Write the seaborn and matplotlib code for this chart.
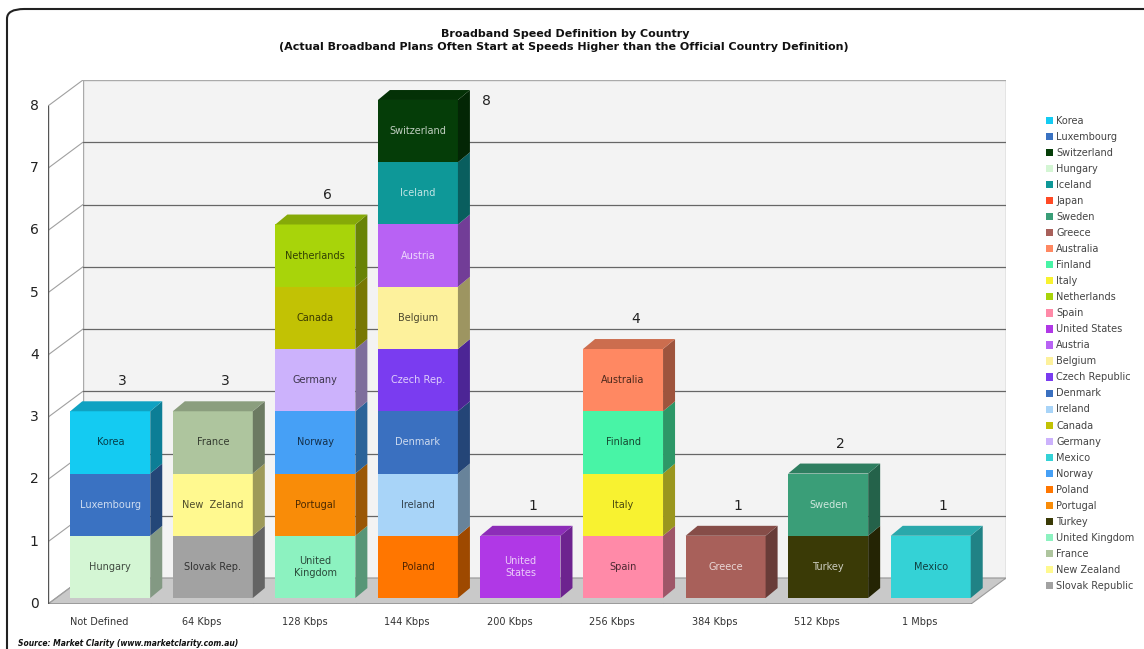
import matplotlib
matplotlib.use('Agg')
import numpy as np
import pandas as pd
import matplotlib.pyplot as plt
import seaborn as sns
from matplotlib.colors import to_rgb
from matplotlib.patches import Polygon, Patch, FancyBboxPatch

speeds = ['Not Defined', '64 Kbps', '128 Kbps', '144 Kbps', '200 Kbps',
          '256 Kbps', '384 Kbps', '512 Kbps', '1 Mbps']

# one row per country, listed bottom -> top inside each speed
seg_speed = ['Not Defined', 'Not Defined', 'Not Defined',
             '64 Kbps', '64 Kbps', '64 Kbps',
             '128 Kbps', '128 Kbps', '128 Kbps', '128 Kbps', '128 Kbps', '128 Kbps',
             '144 Kbps', '144 Kbps', '144 Kbps', '144 Kbps', '144 Kbps', '144 Kbps',
             '144 Kbps', '144 Kbps',
             '200 Kbps',
             '256 Kbps', '256 Kbps', '256 Kbps', '256 Kbps',
             '384 Kbps',
             '512 Kbps', '512 Kbps',
             '1 Mbps']
seg_country = ['Hungary', 'Luxembourg', 'Korea',
               'Slovak Republic', 'New Zealand', 'France',
               'United Kingdom', 'Portugal', 'Norway', 'Germany', 'Canada', 'Netherlands',
               'Poland', 'Ireland', 'Denmark', 'Czech Republic', 'Belgium', 'Austria',
               'Iceland', 'Switzerland',
               'United States',
               'Spain', 'Italy', 'Finland', 'Australia',
               'Greece',
               'Turkey', 'Sweden',
               'Mexico']
seg_label = ['Hungary', 'Luxembourg', 'Korea',
             'Slovak Rep.', 'New  Zeland', 'France',
             'United\nKingdom', 'Portugal', 'Norway', 'Germany', 'Canada', 'Netherlands',
             'Poland', 'Ireland', 'Denmark', 'Czech Rep.', 'Belgium', 'Austria',
             'Iceland', 'Switzerland',
             'United\nStates',
             'Spain', 'Italy', 'Finland', 'Australia',
             'Greece',
             'Turkey', 'Sweden',
             'Mexico']
seg_value = [1, 1, 1,
             1, 1, 1,
             1, 1, 1, 1, 1, 1,
             1, 1, 1, 1, 1, 1, 1, 1,
             1,
             1, 1, 1, 1,
             1,
             1, 1,
             1]

legend_countries = ['Korea', 'Luxembourg', 'Switzerland', 'Hungary', 'Iceland', 'Japan',
                    'Sweden', 'Greece', 'Australia', 'Finland', 'Italy', 'Netherlands',
                    'Spain', 'United States', 'Austria', 'Belgium', 'Czech Republic',
                    'Denmark', 'Ireland', 'Canada', 'Germany', 'Mexico', 'Norway',
                    'Poland', 'Portugal', 'Turkey', 'United Kingdom', 'France',
                    'New Zealand', 'Slovak Republic']
legend_colors = ['#14cbf2', '#3a72c2', '#053d08', '#d4f6d4', '#0e9898', '#ff4a25',
                 '#3a9e78', '#a8605a', '#ff8862', '#48f4a6', '#f8f230', '#a8d40a',
                 '#ff8aa8', '#b038e6', '#b862f4', '#fdf19c', '#7a3cf0',
                 '#3a70c0', '#a8d4f8', '#c2c204', '#ccb2fc', '#34d2d6', '#46a0f6',
                 '#ff7600', '#f98c08', '#3a3a06', '#8cf2c0', '#aec59e',
                 '#fff98f', '#a2a2a2']
palette = dict(zip(legend_countries, legend_colors))

df = pd.DataFrame({'speed': seg_speed, 'country': seg_country,
                   'label': seg_label, 'value': seg_value})
df['top'] = df.groupby('speed', sort=False)['value'].cumsum()
df['bottom'] = df['top'] - df['value']
df['pos'] = df['speed'].map({s: i for i, s in enumerate(speeds)})
totals = df.groupby('speed', sort=False)['value'].sum().reindex(speeds)

# pseudo 3d geometry (data units)
bw = 0.78           # bar width
sx, sy = 0.107, 0.096   # bar offset from front axis
bdx, bdy = 0.117, 0.16  # bar depth
wdx, wdy = 0.341, 0.417 # wall depth
x0 = -0.5 - sx
x1 = len(speeds) - 0.5 - sx
ymax = 8

sns.set_theme(style='white')
plt.rcParams['font.family'] = ['DejaVu Sans']

fig = plt.figure(figsize=(11.44, 6.49), dpi=100)
ax = fig.add_axes([48 / 1144, 45 / 649, 958 / 1144, 524 / 649])

# back wall and floor
ax.add_patch(Polygon([(x0 + wdx, -sy + wdy), (x1 + wdx, -sy + wdy),
                      (x1 + wdx, ymax - sy + wdy), (x0 + wdx, ymax - sy + wdy)],
                     closed=True, facecolor='#f3f3f3', edgecolor='#aaaaaa', lw=1, zorder=0))
ax.add_patch(Polygon([(x0, -sy), (x0 + wdx, -sy + wdy), (x0 + wdx, ymax - sy + wdy),
                      (x0, ymax - sy)],
                     closed=True, facecolor='white', edgecolor='none', zorder=0))
ax.add_patch(Polygon([(x0, -sy), (x1, -sy), (x1 + wdx, -sy + wdy), (x0 + wdx, -sy + wdy)],
                     closed=True, facecolor='#c9c9c9', edgecolor='#9a9a9a', lw=0.8, zorder=1))

for v in range(ymax + 1):
    ax.plot([x0, x0 + wdx], [v - sy, v - sy + wdy], color='#a0a0a0', lw=0.8, zorder=1)
    if 0 < v < ymax:
        ax.plot([x0 + wdx, x1 + wdx], [v - sy + wdy] * 2, color='#666666', lw=0.9, zorder=1)
    ax.plot([x0 - 0.05, x0], [v - sy] * 2, color='#444444', lw=0.9, zorder=2)
    ax.text(x0 - 0.09, v - sy, str(v), ha='right', va='center', fontsize=10,
            color='#222222')
ax.plot([x0, x0], [-sy, ymax - sy], color='#555555', lw=1, zorder=2)
ax.plot([x0, x1], [-sy, -sy], color='#555555', lw=1, zorder=2)
for k in range(len(speeds) + 1):
    ax.plot([x0 + k] * 2, [-sy, -sy - 0.1], color='#444444', lw=0.9, zorder=2)
for i, s in enumerate(speeds):
    ax.text(i - sx, -sy - 0.29, s, ha='center', va='center', fontsize=7, color='#333333')

# front faces: full-height bars, lower segments in front
hue_order = list(df.sort_values('top', ascending=False)['country'])
sns.barplot(data=df, x='speed', y='top', hue='country', hue_order=hue_order,
            order=speeds, palette=palette, dodge=False, width=bw, saturation=1,
            errorbar=None, legend=False, linewidth=0, ax=ax)
for p in ax.patches:
    if hasattr(p, 'get_height') and p.get_width() < 1:
        p.set_zorder(10 - p.get_height() * 0.1)


def shade(c, f):
    return tuple(np.clip(np.array(to_rgb(c)) * f, 0, 1))


for _, r in df.iterrows():
    c = palette[r['country']]
    xr = r['pos'] + bw / 2
    ax.add_patch(Polygon([(xr, r['bottom']), (xr + bdx, r['bottom'] + bdy),
                          (xr + bdx, r['top'] + bdy), (xr, r['top'])],
                         closed=True, facecolor=shade(c, 0.62), edgecolor='none', zorder=10))
    rgb = np.array(to_rgb(c))
    lum = rgb @ np.array([0.299, 0.587, 0.114])
    tc = shade(c, 0.3) if lum > 0.56 else tuple(rgb + (1 - rgb) * 0.75)
    ax.text(r['pos'], (r['bottom'] + r['top']) / 2, r['label'], ha='center',
            va='center', fontsize=7, color=tc, zorder=12, linespacing=1.3)

tops = df.loc[df.groupby('speed', sort=False)['top'].idxmax()]
for _, r in tops.iterrows():
    c = palette[r['country']]
    xl, xr = r['pos'] - bw / 2, r['pos'] + bw / 2
    ax.add_patch(Polygon([(xl, r['top']), (xr, r['top']), (xr + bdx, r['top'] + bdy),
                          (xl + bdx, r['top'] + bdy)],
                         closed=True, facecolor=shade(c, 0.8), edgecolor='none', zorder=11))

for i, s in enumerate(speeds):
    t = totals[s]
    if t + 0.5 > ymax:
        ax.text(i + 0.67, t - 0.02, f'{t:g}', ha='center', va='center', fontsize=10,
                color='#222222', zorder=12)
    else:
        ax.text(i + 0.12, t + 0.48, f'{t:g}', ha='center', va='center', fontsize=10,
                color='#222222', zorder=12)

ax.set_xlim(x0, x1 + wdx)
ax.set_ylim(-sy, ymax - sy + wdy)
ax.axis('off')

fig.text(565 / 1144, 1 - 34 / 649, 'Broadband Speed Definition by Country',
         ha='center', va='center', fontsize=8, fontweight='bold', color='#111111')
fig.text(564 / 1144, 1 - 47 / 649,
         '(Actual Broadband Plans Often Start at Speeds Higher than the Official Country Definition)',
         ha='center', va='center', fontsize=8, fontweight='bold', color='#111111')
fig.text(18 / 1144, 1 - 643 / 649, 'Source: Market Clarity (www.marketclarity.com.au)',
         ha='left', va='center', fontsize=5.5, fontstyle='italic', fontweight='bold',
         color='#111111')

handles = [Patch(facecolor=c, edgecolor='none', label=n)
           for n, c in zip(legend_countries, legend_colors)]
fig.legend(handles=handles, loc='upper left', bbox_to_anchor=(1046 / 1144, 1 - 116 / 649),
           frameon=False, fontsize=7, labelspacing=0.62, handlelength=0.75,
           handleheight=0.75, handletextpad=0.3, borderpad=0, borderaxespad=0,
           labelcolor='#444444')

frame = FancyBboxPatch((7 / 1144, -0.1), 1.2, 1.1 - 9 / 649,
                       boxstyle='round,pad=0,rounding_size=0.015', transform=fig.transFigure,
                       facecolor='none', edgecolor='#222222', lw=1.5)
fig.patches.append(frame)

fig.savefig('out.png', dpi=100)
